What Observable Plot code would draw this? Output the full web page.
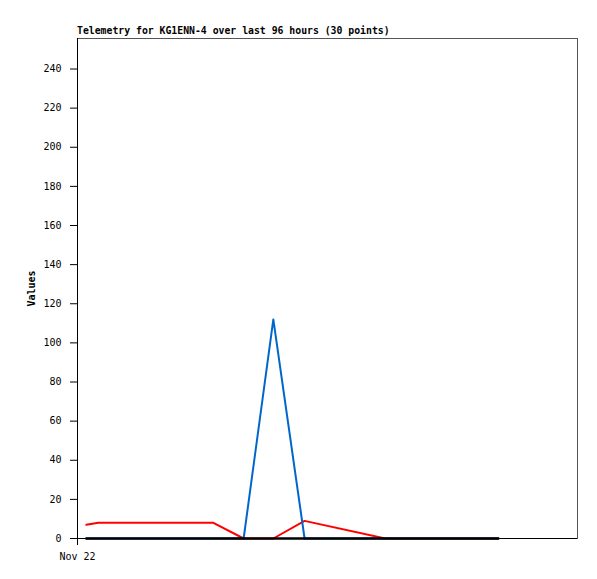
<!DOCTYPE html>
<html>
<head>
<meta charset="utf-8">
<script src="https://cdn.jsdelivr.net/npm/d3@7"></script>
<script src="https://cdn.jsdelivr.net/npm/@observablehq/plot@0.6"></script>
<style>
  html, body { margin: 0; padding: 0; background: white; }
  #title { height: 30px; box-sizing: border-box; padding: 25px 0 0 77px; font: bold 9.8px "DejaVu Sans Mono", monospace; line-height: 11px; white-space: nowrap; color: black; }
  #chart svg { display: block; }
</style>
</head>
<body>
<div id="title">Telemetry for KG1ENN-4 over last 96 hours (30 points)</div>
<div id="chart"></div>
<script>
// hours since Nov 22 00:00 (x axis spans 96 hours)
const hours = [1.7, 4.0, 26.1, 31.9, 37.6, 43.6, 59.1, 80.8];
const redValues = [7, 8, 8, 0, 0, 9, 0, 0];
const blueValues = [0, 0, 0, 0, 112, 0, 0, 0];
const blackValues = [0, 0, 0, 0, 0, 0, 0, 0];
const yTicks = [0, 20, 40, 60, 80, 100, 120, 140, 160, 180, 200, 220, 240];
const xTicks = [0];
const xTickLabels = ["Nov 22"];
const yLabel = "Values";

const rows = hours.map((h, i) => ({h, red: redValues[i], blue: blueValues[i], black: blackValues[i]}));

const chart = Plot.plot({
  width: 597,
  height: 549,
  marginTop: 8,
  marginLeft: 77,
  marginRight: 20,
  marginBottom: 41,
  style: {fontFamily: "'DejaVu Sans Mono', monospace", fontSize: "10px", color: "black", background: "white"},
  x: {domain: [0, 96], label: null},
  y: {domain: [0, 255.6], label: null},
  marks: [
    Plot.frame({stroke: "#555"}),
    Plot.ruleY([0], {stroke: "black"}),
    Plot.ruleX([0], {stroke: "black"}),
    Plot.line(rows, {x: "h", y: "red", stroke: "#ff0000", strokeWidth: 2}),
    Plot.line(rows, {x: "h", y: "blue", stroke: "#0066cc", strokeWidth: 2}),
    Plot.line(rows, {x: "h", y: "black", stroke: "black", strokeWidth: 2.5}),
    Plot.axisY(yTicks, {tickSize: 7, tickPadding: 9, label: null, stroke: "black"}),
    Plot.axisX(xTicks, {tickSize: 7, tickPadding: 7, label: null, tickFormat: d => xTickLabels[xTicks.indexOf(d)]}),
    Plot.text([yLabel], {frameAnchor: "left", textAnchor: "middle", dx: -46, rotate: -90, fontWeight: "bold", fontSize: 10, text: d => d})
  ]
});
document.getElementById("chart").appendChild(chart);
</script>
</body>
</html>
